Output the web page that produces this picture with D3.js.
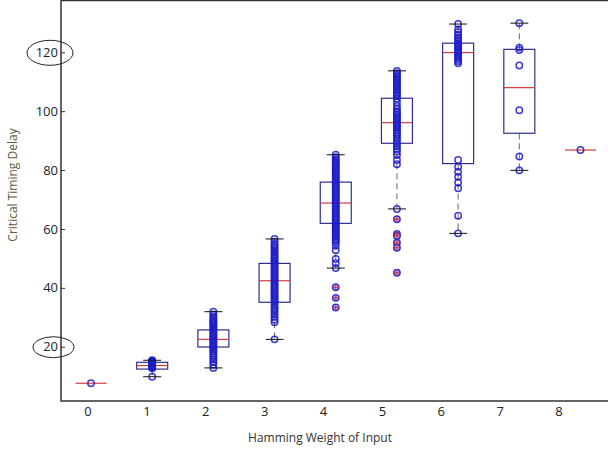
<!DOCTYPE html>
<html>
<head>
<meta charset="utf-8">
<script src="https://cdn.jsdelivr.net/npm/d3@7"></script>
<style>
  body { margin: 0; background: #fff; }
  svg { display: block; }
  text { font-family: "Open Sans", sans-serif; }
</style>
</head>
<body>
<svg id="chart" width="608" height="451"></svg>
<script>
// Hamming weight groups and box statistics
const weights = [0, 1, 2, 3, 4, 5, 6, 7, 8];
const q1 = [7.6, 12.4, 19.9, 35.1, 61.9, 89.1, 82.2, 92.5, 86.8];
const medians = [7.6, 13.6, 22.5, 42.4, 68.8, 96.1, 119.9, 108.0, 86.8];
const q3 = [7.6, 14.7, 25.7, 48.3, 75.9, 104.4, 123.1, 121.0, 86.8];
const whiskerLow = [7.6, 9.8, 12.8, 22.5, 46.7, 66.8, 58.5, 79.9, 86.8];
const whiskerHigh = [7.6, 15.4, 31.9, 56.6, 85.2, 113.7, 129.6, 129.9, 86.8];

// individual delays per group (estimated)
const points = [
  [7.6],
  [15.4, 15.2, 15.0, 14.8, 14.6, 14.4, 14.2, 14.0, 13.8, 13.6, 13.4, 13.2, 13.0, 12.7, 9.8],
  [31.9, 31.0, 30.3, 29.6, 29.0, 28.5, 28.0, 27.5, 27.0, 26.5, 26.0, 25.5, 25.0, 24.5, 24.0, 23.5,
   23.0, 22.5, 22.0, 21.5, 21.0, 20.5, 20.0, 19.5, 19.0, 18.4, 17.8, 17.1, 16.4, 15.6, 14.8, 13.9, 12.8],
  [56.6, 55.7, 54.9, 54.2, 53.6, 53.0, 52.4, 51.8, 51.2, 50.6, 50.0, 49.4, 48.8, 48.2, 47.6, 47.0,
   46.4, 45.8, 45.2, 44.6, 44.0, 43.4, 42.8, 42.2, 41.6, 41.0, 40.4, 39.8, 39.2, 38.6, 38.0, 37.4,
   36.8, 36.2, 35.6, 35.0, 34.2, 33.4, 32.6, 31.8, 31.0, 30.1, 29.2, 28.3, 22.5],
  [85.2, 84.4, 83.7, 83.0, 82.4, 81.8, 81.2, 80.6, 80.0, 79.4, 78.8, 78.2, 77.6, 77.0, 76.4, 75.8,
   75.2, 74.6, 74.0, 73.4, 72.8, 72.2, 71.6, 71.0, 70.4, 69.8, 69.2, 68.6, 68.0, 67.4, 66.8, 66.2,
   65.6, 65.0, 64.4, 63.8, 63.2, 62.6, 62.0, 61.4, 60.8, 60.2, 59.6, 59.0, 58.4, 57.8, 57.2, 56.6,
   56.0, 55.3, 54.3, 52.8, 49.8, 48.4, 46.7, 40.2, 36.6, 33.3],
  [113.7, 112.9, 112.3, 111.7, 111.1, 110.5, 109.9, 109.3, 108.7, 108.1, 107.5, 106.9, 106.3, 105.7,
   105.1, 104.2, 103.0, 101.8, 100.8, 100.0, 99.4, 98.8, 98.2, 97.6, 97.0, 96.4, 95.8, 95.2, 94.6,
   94.0, 93.4, 92.8, 92.2, 91.4, 90.6, 89.8, 88.9, 88.0, 87.2, 86.3, 85.1, 83.4, 82.0, 66.8,
   63.3, 58.3, 57.6, 55.3, 53.6, 45.1],
  [129.6, 127.8, 126.8, 125.9, 125.1, 124.4, 123.7, 123.0, 122.4, 121.8, 121.2, 120.6, 120.0, 119.4,
   118.8, 118.2, 117.6, 117.0, 116.3, 83.4, 81.1, 79.4, 77.7, 75.8, 73.8, 64.5, 58.5],
  [129.9, 121.6, 120.8, 115.5, 100.3, 84.6, 79.9],
  [86.8]
];
const outliers = [[], [], [], [], [40.2, 36.6, 33.3], [63.3, 58.3, 57.6, 55.3, 53.6, 45.1], [], [], []];

const yTicks = [20, 40, 60, 80, 100, 120];
const circledTicks = [20, 120];

const svg = d3.select('#chart');
const plotLeft = 61, plotTop = 0.5, plotBottom = 401, plotRight = 608;

const x = d3.scaleLinear().domain([0, 8]).range([91, 580.5]);
// tick labels sit a bit left of the boxes in the original
const xLab = d3.scaleLinear().domain([0, 8]).range([88, 559]);
const y = d3.scaleLinear().domain([0, 120]).range([405.6, 52.3]);

const boxW = 31, capW = 18;

// frame
svg.append('path')
  .attr('d', `M${plotRight},${plotTop}H${plotLeft}V${plotBottom}H${plotRight}`)
  .attr('fill', 'none')
  .attr('stroke', '#333')
  .attr('stroke-width', 1.5);

// y axis ticks pointing inward
const yAxis = svg.append('g')
  .attr('transform', `translate(${plotLeft},0)`)
  .call(d3.axisRight(y).tickValues(yTicks).tickSize(4).tickFormat(''));
yAxis.select('.domain').remove();
yAxis.selectAll('line').attr('stroke', '#333');

svg.append('g').selectAll('text')
  .data(yTicks)
  .join('text')
  .attr('x', plotLeft - 3)
  .attr('y', d => y(d))
  .attr('dy', '0.35em')
  .attr('text-anchor', 'end')
  .attr('font-size', 13)
  .attr('fill', '#222')
  .text(d => d);

svg.append('g').selectAll('ellipse')
  .data(circledTicks)
  .join('ellipse')
  .attr('cx', d => d === 120 ? 50 : 53.5)
  .attr('cy', d => y(d) + 0.5)
  .attr('rx', d => d === 120 ? 23 : 20.5)
  .attr('ry', d => d === 120 ? 12.5 : 10.5)
  .attr('fill', 'none')
  .attr('stroke', '#222')
  .attr('stroke-width', 1);

// x tick labels
svg.append('g').selectAll('text')
  .data(weights)
  .join('text')
  .attr('x', d => xLab(d))
  .attr('y', 416)
  .attr('text-anchor', 'middle')
  .attr('font-size', 13)
  .attr('fill', '#222')
  .text(d => d);

svg.append('text')
  .attr('x', 320)
  .attr('y', 442)
  .attr('text-anchor', 'middle')
  .attr('font-size', 12)
  .attr('fill', '#333')
  .text('Hamming Weight of Input');

svg.append('text')
  .attr('transform', `translate(17,${185}) rotate(-90)`)
  .attr('text-anchor', 'middle')
  .attr('font-size', 12)
  .attr('fill', '#5c5c40')
  .text('Critical Timing Delay');

const g = svg.append('g');

weights.forEach(i => {
  const cx = x(i);
  // whiskers
  if (whiskerHigh[i] > q3[i]) {
    g.append('line').attr('x1', cx).attr('x2', cx)
      .attr('y1', y(q3[i])).attr('y2', y(whiskerHigh[i]))
      .attr('stroke', '#666').attr('stroke-dasharray', '6,4');
  }
  if (whiskerLow[i] < q1[i]) {
    g.append('line').attr('x1', cx).attr('x2', cx)
      .attr('y1', y(q1[i])).attr('y2', y(whiskerLow[i]))
      .attr('stroke', '#666').attr('stroke-dasharray', '6,4');
  }
  // box
  if (q3[i] > q1[i]) {
    g.append('rect')
      .attr('x', cx - boxW / 2).attr('y', y(q3[i]))
      .attr('width', boxW).attr('height', y(q1[i]) - y(q3[i]))
      .attr('fill', 'none').attr('stroke', '#2e2e8e').attr('stroke-width', 1.2);
  }
  // median
  g.append('line')
    .attr('x1', cx - boxW / 2).attr('x2', cx + boxW / 2)
    .attr('y1', y(medians[i])).attr('y2', y(medians[i]))
    .attr('stroke', '#d23c3c').attr('stroke-width', 1.2);
});

// scatter points
weights.forEach(i => {
  const isOut = new Set(outliers[i]);
  g.append('g').selectAll('circle')
    .data(points[i])
    .join('circle')
    .attr('cx', x(i))
    .attr('cy', d => y(d))
    .attr('r', 3.2)
    .attr('fill', d => isOut.has(d) ? '#d9a6cf' : 'none')
    .attr('stroke', '#1c1cc8')
    .attr('stroke-opacity', 0.85)
    .attr('stroke-width', 1.5);
});

// whisker caps
weights.forEach(i => {
  if (whiskerHigh[i] === whiskerLow[i]) return;
  [whiskerLow[i], whiskerHigh[i]].forEach(v => {
    g.append('line')
      .attr('x1', x(i) - capW / 2).attr('x2', x(i) + capW / 2)
      .attr('y1', y(v)).attr('y2', y(v))
      .attr('stroke', '#111').attr('stroke-width', 1);
  });
});

// outlier crosses
weights.forEach(i => {
  g.append('g').selectAll('path')
    .data(outliers[i])
    .join('path')
    .attr('d', d => `M${x(i) - 3},${y(d)}h6M${x(i)},${y(d) - 3}v6`)
    .attr('stroke', '#c03050')
    .attr('stroke-width', 1);
});
</script>
</body>
</html>
